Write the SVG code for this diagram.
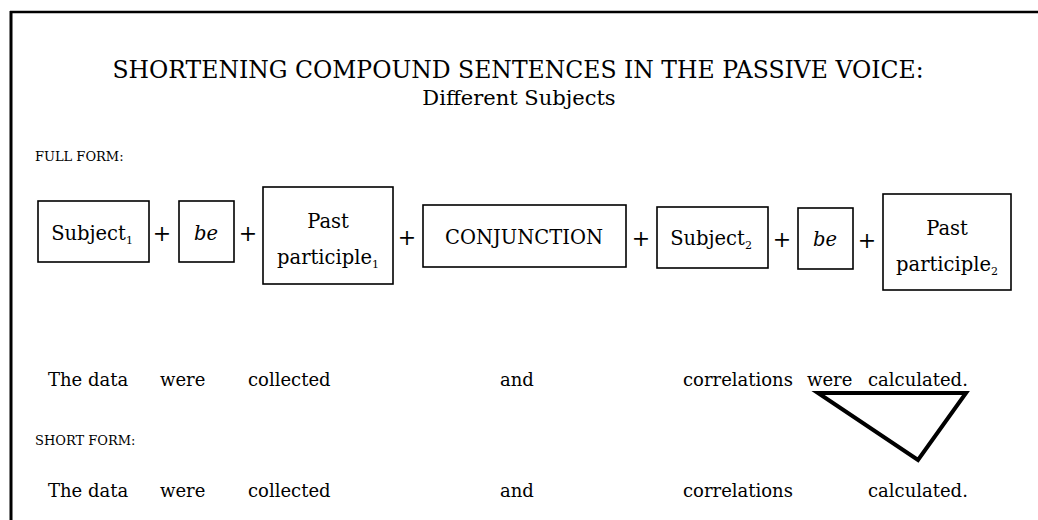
<svg xmlns="http://www.w3.org/2000/svg" width="1038" height="520" viewBox="0 0 1038 520">
<style>
.t{font-family:"DejaVu Serif","Liberation Serif",serif;fill:#000}
.box{fill:#fff;stroke:#000;stroke-width:1.6}
.lbl{font-size:19.5px;text-anchor:middle}
.plus{font-size:22px;text-anchor:middle}
.row{font-size:18px}
.sc{font-size:13px}
.sub{font-size:11px}
</style>
<rect width="1038" height="520" fill="#fff"/>
<g id="frame">
<line x1="10" y1="12" x2="1038" y2="12" stroke="#000" stroke-width="2.5"/>
<line x1="11" y1="11" x2="11" y2="520" stroke="#000" stroke-width="3"/>
</g>
<g id="title">
<text class="t" x="518" y="78" font-size="23.5" text-anchor="middle">SHORTENING COMPOUND SENTENCES IN THE PASSIVE VOICE:</text>
<text class="t" x="519" y="105" font-size="21" text-anchor="middle">Different Subjects</text>
<text class="t sc" x="35" y="161">FULL FORM:</text>
</g>
<g id="n-subject1"><rect class="box" x="38" y="201" width="111" height="61"/><text class="t lbl" x="92" y="240">Subject<tspan class="sub" dy="4">1</tspan></text></g>
<g id="n-be1"><rect class="box" x="179" y="201" width="55" height="61"/><text class="t lbl" x="206" y="240" font-style="italic">be</text></g>
<g id="n-pp1"><rect class="box" x="263" y="187" width="130" height="97"/><text class="t lbl" x="328" y="228">Past</text><text class="t lbl" x="328" y="264">participle<tspan class="sub" dy="4">1</tspan></text></g>
<g id="n-conj"><rect class="box" x="423" y="205" width="203" height="62"/><text class="t lbl" x="524" y="244">CONJUNCTION</text></g>
<g id="n-subject2"><rect class="box" x="657" y="207" width="111" height="61"/><text class="t lbl" x="711" y="245">Subject<tspan class="sub" dy="4">2</tspan></text></g>
<g id="n-be2"><rect class="box" x="798" y="208" width="55" height="61"/><text class="t lbl" x="825" y="246" font-style="italic">be</text></g>
<g id="n-pp2"><rect class="box" x="883" y="194" width="128" height="96"/><text class="t lbl" x="947" y="235">Past</text><text class="t lbl" x="947" y="271">participle<tspan class="sub" dy="4">2</tspan></text></g>
<g id="plus">
<text class="t plus" x="162" y="241">+</text>
<text class="t plus" x="248" y="241">+</text>
<text class="t plus" x="407" y="245">+</text>
<text class="t plus" x="641" y="246">+</text>
<text class="t plus" x="782" y="247">+</text>
<text class="t plus" x="867" y="248">+</text>
</g>
<g id="full-row">
<text class="t row" x="48" y="386">The data</text>
<text class="t row" x="160" y="386">were</text>
<text class="t row" x="248" y="386">collected</text>
<text class="t row" x="500" y="386">and</text>
<text class="t row" x="683" y="386">correlations</text>
<text class="t row" x="807" y="386">were</text>
<text class="t row" x="868" y="386">calculated.</text>
</g>
<g id="connectors">
<polygon points="818,393 966,393 918,460" fill="none" stroke="#000" stroke-width="4" stroke-linejoin="miter"/>
</g>
<g id="short">
<text class="t sc" x="35" y="445">SHORT FORM:</text>
<text class="t row" x="48" y="497">The data</text>
<text class="t row" x="160" y="497">were</text>
<text class="t row" x="248" y="497">collected</text>
<text class="t row" x="500" y="497">and</text>
<text class="t row" x="683" y="497">correlations</text>
<text class="t row" x="868" y="497">calculated.</text>
</g>
</svg>
